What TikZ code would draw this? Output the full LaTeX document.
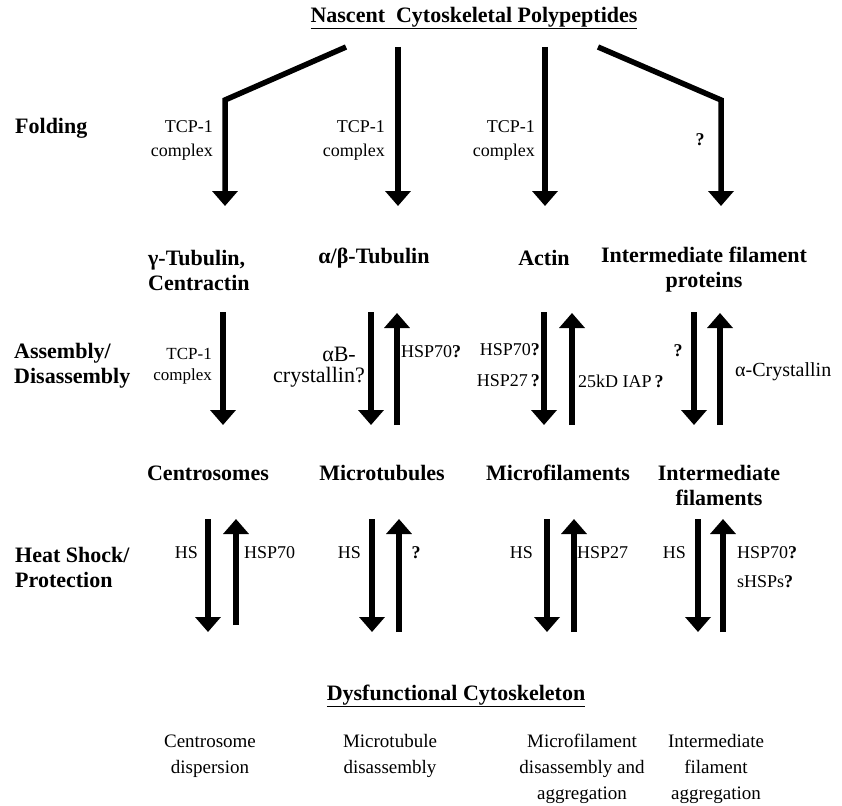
\documentclass[tikz,border=0pt]{standalone}
\usepackage{fontspec}
\setmainfont{Liberation Serif}
\usetikzlibrary{arrows.meta}
\begin{document}
\begin{tikzpicture}[x=1pt,y=-1pt,
  arr/.style={line width=5.5pt,line join=miter,-{Triangle[width=25pt,length=15pt]}},
  hdr/.style={font=\bfseries\fontsize{22}{25}\selectfont,inner sep=0pt,align=center},
  lbl/.style={font=\fontsize{18}{24}\selectfont,inner sep=0pt},
  big/.style={font=\fontsize{20}{21}\selectfont,inner sep=0pt},
  bot/.style={font=\fontsize{19}{26}\selectfont,inner sep=0pt,align=center}]
\useasboundingbox (0,0) rectangle (842,805);

% title
\node[hdr] (title) at (474,18) {\underline{Nascent\ \ Cytoskeletal Polypeptides}};

% ---------- Folding ----------
\coordinate (f1s) at (346,47); \coordinate (f1k) at (225,100); \coordinate (f1e) at (225,206);
\coordinate (f2s) at (398,47); \coordinate (f2e) at (398,206);
\coordinate (f3s) at (545,47); \coordinate (f3e) at (545,206);
\coordinate (f4s) at (598,47); \coordinate (f4k) at (721,100); \coordinate (f4e) at (721,206);
\draw[arr] (f1s) -- (f1k) -- (f1e);
\draw[arr] (f2s) -- (f2e);
\draw[arr] (f3s) -- (f3e);
\draw[arr] (f4s) -- (f4k) -- (f4e);

\node[hdr,anchor=west] (folding) at (15,128) {Folding};
\node[lbl,anchor=east,align=right] (tcpA) at (213,140) {TCP-1\\complex};
\node[lbl,anchor=east,align=right] (tcpB) at (385,140) {TCP-1\\complex};
\node[lbl,anchor=east,align=right] (tcpC) at (535,140) {TCP-1\\complex};
\node[lbl,font=\bfseries\fontsize{18}{24}\selectfont] (qF) at (700,140) {?};

% ---------- proteins ----------
\node[hdr,anchor=west,align=left] (gtub) at (148,270) {γ-Tubulin,\\Centractin};
\node[hdr] (abtub) at (374,258) {α/β-Tubulin};
\node[hdr] (actin) at (544,258) {Actin};
\node[hdr] (ifp) at (704,270) {Intermediate filament\\proteins};

% ---------- Assembly ----------
\node[hdr,anchor=west,align=left] (assem) at (14,366) {Assembly/\\Disassembly};
\coordinate (a1t) at (223,312); \coordinate (a1b) at (223,425);
\coordinate (a2t) at (371,312); \coordinate (a2b) at (371,425);
\coordinate (a2ut) at (397,313); \coordinate (a2ub) at (397,425);
\coordinate (a3t) at (544,312); \coordinate (a3b) at (544,425);
\coordinate (a3ut) at (572,313); \coordinate (a3ub) at (572,425);
\coordinate (a4t) at (694,312); \coordinate (a4b) at (694,425);
\coordinate (a4ut) at (720,313); \coordinate (a4ub) at (720,425);
\draw[arr] (a1t) -- (a1b);
\draw[arr] (a2t) -- (a2b);
\draw[arr] (a2ub) -- (a2ut);
\draw[arr] (a3t) -- (a3b);
\draw[arr] (a3ub) -- (a3ut);
\draw[arr] (a4t) -- (a4b);
\draw[arr] (a4ub) -- (a4ut);

\node[lbl,anchor=east,align=right,font=\fontsize{17}{21}\selectfont] (tcpD) at (212,366) {TCP-1\\complex};
\node[big,anchor=east,align=right,font=\fontsize{22}{21}\selectfont] (abcry) at (365,367) {αB-\rule{9pt}{0pt}\\crystallin?};
\node[lbl,anchor=west] (hsp70a) at (401,352) {HSP70\textbf{?}};
\node[lbl,anchor=east] (hsp70b) at (540,350) {HSP70\textbf{?}};
\node[lbl,anchor=east] (hsp27a) at (540,381) {HSP27\,\textbf{?}};
\node[lbl,anchor=west] (iap) at (578,381) {25kD IAP\,\textbf{?}};
\node[lbl,font=\bfseries\fontsize{18}{24}\selectfont] (qA) at (678,351) {?};
\node[big,anchor=west] (acry) at (735,372) {α-Crystallin};

% ---------- structures ----------
\node[hdr] (centro) at (208,473) {Centrosomes};
\node[hdr] (mtub) at (382,473) {Microtubules};
\node[hdr] (mfil) at (558,473) {Microfilaments};
\node[hdr] (ifil) at (719,485) {Intermediate\\filaments};

% ---------- Heat shock ----------
\node[hdr,anchor=west,align=left] (heat) at (15,567) {Heat Shock/\\Protection};
\coordinate (h1t) at (208,519); \coordinate (h1b) at (208,632);
\coordinate (h1ut) at (236,519); \coordinate (h1ub) at (236,625);
\coordinate (h2t) at (372,519); \coordinate (h2b) at (372,632);
\coordinate (h2ut) at (399,519); \coordinate (h2ub) at (399,632);
\coordinate (h3t) at (547,519); \coordinate (h3b) at (547,632);
\coordinate (h3ut) at (574,519); \coordinate (h3ub) at (574,632);
\coordinate (h4t) at (698,519); \coordinate (h4b) at (698,632);
\coordinate (h4ut) at (723,519); \coordinate (h4ub) at (723,632);
\draw[arr] (h1t) -- (h1b);
\draw[arr] (h1ub) -- (h1ut);
\draw[arr] (h2t) -- (h2b);
\draw[arr] (h2ub) -- (h2ut);
\draw[arr] (h3t) -- (h3b);
\draw[arr] (h3ub) -- (h3ut);
\draw[arr] (h4t) -- (h4b);
\draw[arr] (h4ub) -- (h4ut);

\node[lbl,anchor=east] (hs1) at (198,553) {HS};
\node[lbl,anchor=west] (hsp70c) at (244,553) {HSP70};
\node[lbl,anchor=east] (hs2) at (361,553) {HS};
\node[lbl,font=\bfseries\fontsize{18}{24}\selectfont] (qH) at (416,553) {?};
\node[lbl,anchor=east] (hs3) at (533,553) {HS};
\node[lbl,anchor=west] (hsp27b) at (577,553) {HSP27};
\node[lbl,anchor=east] (hs4) at (686,553) {HS};
\node[lbl,anchor=west] (hsp70d) at (737,553) {HSP70\textbf{?}};
\node[lbl,anchor=west] (shsp) at (737,582) {sHSPs\textbf{?}};

% ---------- Dysfunctional ----------
\node[hdr] (dys) at (456,696) {\underline{Dysfunctional Cytoskeleton}};
\node[bot] (b1) at (210,756) {Centrosome\\dispersion};
\node[bot] (b2) at (390,756) {Microtubule\\disassembly};
\node[bot] (b3) at (582,769) {Microfilament\\disassembly and\\aggregation};
\node[bot] (b4) at (716,769) {Intermediate\\filament\\aggregation};
\end{tikzpicture}
\end{document}
